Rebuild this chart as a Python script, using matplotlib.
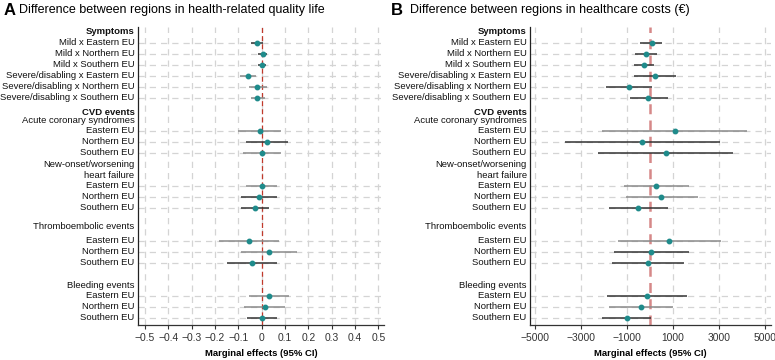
import numpy as np
import matplotlib
matplotlib.use('Agg')
import matplotlib.pyplot as plt
from matplotlib import transforms

plt.rcParams['font.family'] = ['Liberation Sans', 'DejaVu Sans']

#etiquetas del eje y
etiquetas = ['Symptoms',
             'Mild x Eastern EU', 'Mild x Northern EU', 'Mild x Southern EU',
             'Severe/disabling x Eastern EU', 'Severe/disabling x Northern EU',
             'Severe/disabling x Southern EU',
             'CVD events', 'Acute coronary syndromes',
             'Eastern EU', 'Northern EU', 'Southern EU',
             'New-onset/worsening', 'heart failure',
             'Eastern EU', 'Northern EU', 'Southern EU',
             'Thromboembolic events',
             'Eastern EU', 'Northern EU', 'Southern EU',
             'Bleeding events',
             'Eastern EU', 'Northern EU', 'Southern EU']
negritas = ['Symptoms', 'CVD events']
#posicion de cada etiqueta (filas)
pos_etiquetas = [0, 1, 2, 3, 4, 5, 6, 7.3, 8.1, 9, 10, 11, 12.1, 13.1, 14, 15, 16,
                 17.7, 19, 20, 21, 23.1, 24, 25, 26]
#filas con datos
filas = [1, 2, 3, 4, 5, 6, 9, 10, 11, 14, 15, 16, 19, 20, 21, 24, 25, 26]

#panel A: calidad de vida
est_a = [-0.02, 0.006, 0.0, -0.059, -0.018, -0.018,
         -0.009, 0.023, 0.001,
         0.0, -0.013, -0.029,
         -0.054, 0.031, -0.042,
         0.031, 0.013, 0.001]
inf_a = [-0.044, -0.016, -0.017, -0.094, -0.056, -0.046,
         -0.1, -0.069, -0.08,
         -0.069, -0.09, -0.089,
         -0.183, -0.087, -0.149,
         -0.054, -0.076, -0.064]
sup_a = [0.006, 0.024, 0.02, -0.023, 0.021, 0.013,
         0.082, 0.112, 0.082,
         0.066, 0.064, 0.031,
         0.074, 0.152, 0.067,
         0.115, 0.102, 0.067]
col_a = ['o', 'o', 'o', 'g', 'g', 'g', 'g', 'o', 'g',
         'g', 'o', 'o', 'g', 'g', 'o', 'g', 'g', 'o']

#panel B: costos
est_b = [73, -189, -277, 204, -932, -73,
         1063, -349, 684,
         277, 495, -510,
         845, 58, -102,
         -146, -408, -1019]
inf_b = [-422, -655, -684, -713, -1922, -888,
         -2111, -3713, -2257,
         -1150, -1063, -1805,
         -1383, -1558, -1645,
         -1864, -1776, -2097]
sup_b = [510, 291, 160, 1121, 73, 772,
         4237, 3028, 3611,
         1689, 2068, 786,
         3072, 1689, 1485,
         1602, 976, 29]
col_b = ['o', 'o', 'o', 'o', 'o', 'o', 'g', 'o', 'o',
         'g', 'g', 'o', 'g', 'o', 'o', 'o', 'g', 'o']

ticks_a = [-0.5, -0.4, -0.3, -0.2, -0.1, 0, 0.1, 0.2, 0.3, 0.4, 0.5]
labels_a = ['\u22120.5', '\u22120.4', '\u22120.3', '\u22120.2', '\u22120.1', '0',
            '0.1', '0.2', '0.3', '0.4', '0.5']
ticks_b = [-5000, -3000, -1000, 1000, 3000, 5000]
labels_b = ['\u22125000', '\u22123000', '\u22121000', '1000', '3000', '5000']

colores = {'o': '#333333', 'g': '#8a8a8a'}
verde = '#1f8b8b'

fig = plt.figure(figsize=(7.75, 3.6), dpi=100)
ax_a = fig.add_axes([0.178, 0.097, 0.3175, 0.828])
ax_b = fig.add_axes([0.684, 0.097, 0.3105, 0.828])


def panel(ax, est, inf, sup, col, ticks, labels, xlim, linea_roja):
    for t in ticks:
        ax.axvline(t, color='#d4d4d4', lw=0.9, ls=(0, (5, 4)), zorder=0)
    for f in filas:
        ax.axhline(f, color='#d4d4d4', lw=0.9, ls=(0, (5, 4)), zorder=0)
    ax.axvline(0, zorder=1, **linea_roja)
    for i in range(len(filas)):
        ax.plot([inf[i], sup[i]], [filas[i], filas[i]], color=colores[col[i]],
                lw=1.1, solid_capstyle='butt', zorder=2)
    ax.plot(est, filas, 'o', color=verde, ms=3.2, zorder=3)
    ax.set_xlim(xlim)
    ax.set_ylim(26.66, -0.43)
    ax.set_xticks(ticks)
    ax.set_xticklabels(labels, fontsize=7.4, color='#333333')
    ax.set_yticks([])
    ax.tick_params(axis='x', length=3, width=0.8, color='#333333', pad=3)
    for s in ['top', 'right']:
        ax.spines[s].set_visible(False)
    ax.spines['left'].set_color('#222222')
    ax.spines['bottom'].set_color('#333333')
    ax.spines['left'].set_linewidth(0.9)
    ax.spines['bottom'].set_linewidth(0.9)
    trans = transforms.blended_transform_factory(ax.transAxes, ax.transData)
    for e, p in zip(etiquetas, pos_etiquetas):
        ax.text(-0.014, p, e, transform=trans, ha='right', va='center', fontsize=6.8,
                color='#111111', fontweight='bold' if e in negritas else 'normal')
    ax.set_xlabel('Marginal effects (95% CI)', fontsize=6.8, fontweight='bold', labelpad=4)


panel(ax_a, est_a, inf_a, sup_a, col_a, ticks_a, labels_a, (-0.53, 0.524),
      dict(color='#c0392b', lw=0.9, ls=(0, (4, 2.5))))
panel(ax_b, est_b, inf_b, sup_b, col_b, ticks_b, labels_b, (-5220, 5250),
      dict(color='#c86060', lw=1.8, alpha=0.75, ls=(0, (4, 2.5))))

#titulos
fig.text(0.004, 0.971, 'A', fontsize=12, fontweight='bold', va='center')
fig.text(0.024, 0.971, 'Difference between regions in health-related quality life',
         fontsize=9, va='center')
fig.text(0.504, 0.971, 'B', fontsize=12, fontweight='bold', va='center')
fig.text(0.529, 0.971, 'Difference between regions in healthcare costs (\u20ac)',
         fontsize=9, va='center')

plt.savefig('out.png', dpi=100)
